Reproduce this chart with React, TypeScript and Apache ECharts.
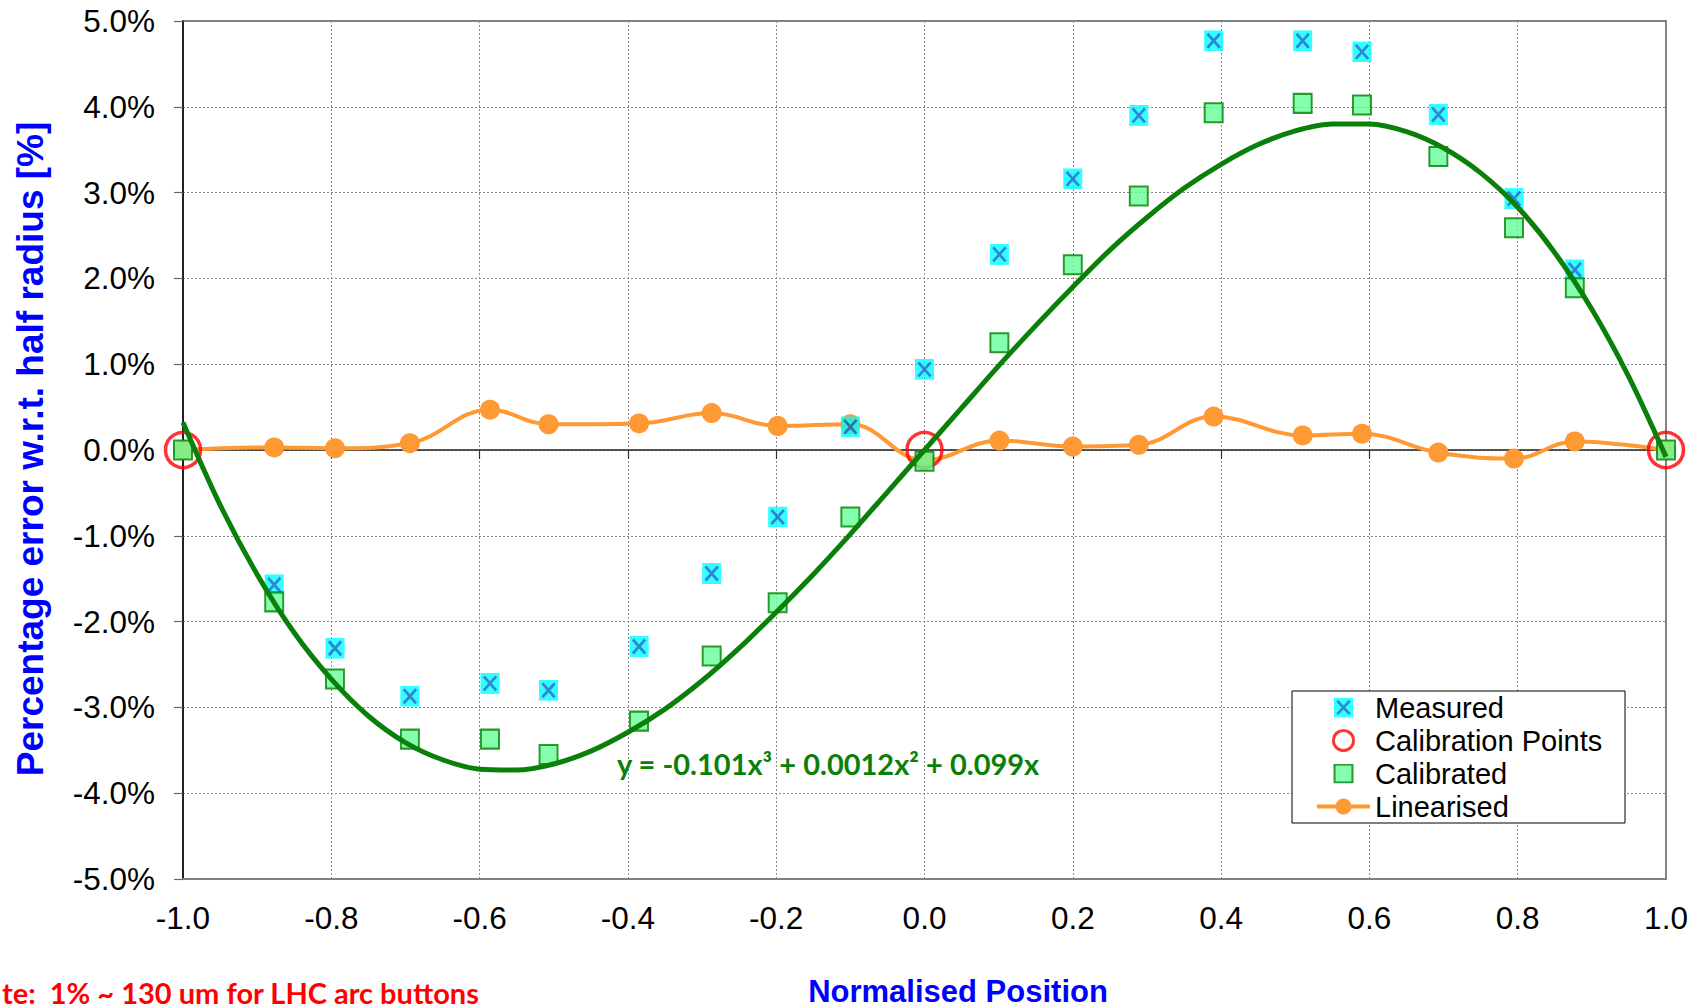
import React, { useEffect, useRef } from "react";
import * as echarts from "echarts";

// Normalised positions of the measurement points
const X_POS = [-1.0, -0.877, -0.795, -0.694, -0.586, -0.507, -0.385, -0.287, -0.198, -0.1, 0.0, 0.101, 0.2, 0.289, 0.39, 0.51, 0.59, 0.693, 0.795, 0.877, 1.0];
// Percentage error values (%), null where no visible point
const MEASURED = [null, -1.57, -2.31, -2.87, -2.72, -2.8, -2.29, -1.44, -0.78, 0.27, 0.94, 2.28, 3.16, 3.9, 4.77, 4.77, 4.64, 3.91, 2.93, 2.1, null];
const CALIBRATED = [0.0, -1.77, -2.67, -3.37, -3.37, -3.55, -3.16, -2.4, -1.78, -0.78, -0.13, 1.25, 2.16, 2.96, 3.93, 4.04, 4.02, 3.42, 2.59, 1.89, 0.0];
const LINEARISED = [0.0, 0.03, 0.02, 0.08, 0.47, 0.3, 0.31, 0.43, 0.28, 0.3, -0.12, 0.11, 0.04, 0.06, 0.39, 0.17, 0.19, -0.03, -0.1, 0.1, 0.0];
const CAL_X = [-1.0, 0.0, 1.0];
const CAL_Y = [0.0, 0.0, 0.0];
// Trendline
const TREND_X = [
  -1.0, -0.95, -0.9, -0.85, -0.8, -0.75, -0.7, -0.65, -0.6, -0.55, -0.5, -0.45, -0.4, -0.35, -0.3, -0.25, -0.2, -0.15, -0.1, -0.05,
  0.0, 0.05, 0.1, 0.15, 0.2, 0.25, 0.3, 0.35, 0.4, 0.45, 0.5, 0.55, 0.6, 0.65, 0.7, 0.75, 0.8, 0.85, 0.9, 0.95, 1.0,
];
const TREND_Y = [
  0.32, -0.64, -1.45, -2.13, -2.67, -3.1, -3.41, -3.61, -3.72, -3.73, -3.66, -3.51, -3.29, -3.02, -2.69, -2.31, -1.89, -1.45, -0.98, -0.49,
  0.0, 0.49, 0.98, 1.45, 1.9, 2.33, 2.71, 3.05, 3.33, 3.56, 3.72, 3.8, 3.8, 3.71, 3.52, 3.23, 2.83, 2.3, 1.64, 0.85, -0.08,
];

const EQUATION = "y = -0.101x³ + 0.0012x² + 0.099x";
const NOTE = "te:  1% ~ 130 um for LHC arc buttons";
const X_TITLE = "Normalised Position";
const Y_TITLE = "Percentage error w.r.t. half radius [%]";

const pairs = (xs: number[], ys: (number | null)[]) =>
  xs.map((x, i) => [x, ys[i]]).filter((p) => p[1] !== null);

const measuredSvg =
  "<svg xmlns='http://www.w3.org/2000/svg' width='20' height='21' viewBox='0 0 20 21'>" +
  "<rect width='20' height='21' fill='#00FFFF'/>" +
  "<path d='M3.5 3.5 L16.5 17.5 M16.5 3.5 L3.5 17.5' stroke='#0066CC' stroke-width='2.8' fill='none'/></svg>";
const measuredIcon = "image://data:image/svg+xml;charset=utf-8," + encodeURIComponent(measuredSvg);
const calibratedSvg =
  "<svg xmlns='http://www.w3.org/2000/svg' width='19' height='19' viewBox='0 0 19 19'>" +
  "<rect x='1' y='1' width='17' height='17' fill='#66FF99' stroke='#008000' stroke-width='2'/></svg>";
const calibratedIcon = "image://data:image/svg+xml;charset=utf-8," + encodeURIComponent(calibratedSvg);

export default function App() {
  const ref = useRef<HTMLDivElement>(null);
  useEffect(() => {
    if (!ref.current) return;
    const chart = echarts.init(ref.current, null, { renderer: "svg" });
    const fmtX = (v: number) => (Math.abs(v) < 1e-9 ? "0.0" : v.toFixed(1));
    const fmtY = (v: number) => (Math.abs(v) < 1e-9 ? "0.0" : v.toFixed(1)) + "%";
    chart.setOption({
      animation: false,
      backgroundColor: "#ffffff",
      grid: {
        left: 183,
        right: 36,
        top: 21,
        bottom: 129,
        show: true,
        borderColor: "#555555",
        borderWidth: 1.5,
        backgroundColor: "transparent",
      },
      xAxis: [
        {
          type: "value",
          min: -1,
          max: 1,
          interval: 0.2,
          position: "bottom",
          axisLine: { onZero: false, lineStyle: { color: "#808080", width: 2 } },
          axisTick: { show: false },
          axisLabel: {
            formatter: fmtX,
            color: "#000",
            fontSize: 31.5,
            fontFamily: "Liberation Sans",
            margin: 23,
          },
          splitLine: { show: true, lineStyle: { color: "#8c8c8c", type: [2, 2], width: 1 } },
        },
        {
          type: "value",
          min: -1,
          max: 1,
          interval: 0.2,
          position: "bottom",
          axisLine: { onZero: true, lineStyle: { color: "#222", width: 1.5 } },
          axisTick: { show: true, length: 9, lineStyle: { color: "#333", width: 1.2 } },
          axisLabel: { show: false },
          splitLine: { show: false },
        },
      ],
      yAxis: {
        type: "value",
        min: -5,
        max: 5,
        interval: 1,
        axisLine: { show: true, onZero: false, lineStyle: { color: "#000", width: 1.5 } },
        axisTick: { show: true, length: 9, lineStyle: { color: "#666", width: 1.2 } },
        axisLabel: {
          formatter: fmtY,
          color: "#000",
          fontSize: 31.5,
          fontFamily: "Liberation Sans",
          margin: 28,
        },
        splitLine: { show: true, lineStyle: { color: "#8c8c8c", type: [2, 2], width: 1 } },
      },
      legend: {
        orient: "vertical",
        left: 1315,
        top: 691,
        padding: 0,
        itemGap: 0,
        itemWidth: 53,
        itemHeight: 20,
        textStyle: { fontSize: 29, fontFamily: "Liberation Sans", color: "#000", lineHeight: 33 },
        data: [
          { name: "Measured", icon: measuredIcon },
          { name: "Calibration Points", itemStyle: { borderWidth: 3 } },
          { name: "Calibrated", icon: calibratedIcon },
          { name: "Linearised", lineStyle: { width: 4 } },
        ],
      },
      graphic: [
        {
          type: "rect",
          z: 3,
          shape: { x: 1292, y: 691, width: 333, height: 132 },
          style: { fill: "#fff", stroke: "#000", lineWidth: 1 },
        },
        {
          type: "text",
          z: 5,
          x: 617,
          y: 763,
          style: {
            text: EQUATION,
            fill: "#0a800a",
            font: 'bold 29px "Lato"',
            textAlign: "left",
            verticalAlign: "middle",
          },
        },
        {
          type: "text",
          z: 5,
          x: 2,
          y: 992,
          style: {
            text: NOTE,
            fill: "#FF0000",
            font: 'bold 29px "Lato"',
            textAlign: "left",
            verticalAlign: "middle",
          },
        },
        {
          type: "text",
          z: 5,
          x: 958,
          y: 991,
          style: {
            text: X_TITLE,
            fill: "#0000FF",
            font: 'bold 31px "Liberation Sans"',
            textAlign: "center",
            verticalAlign: "middle",
          },
        },
        {
          type: "text",
          z: 5,
          x: 30,
          y: 449,
          rotation: Math.PI / 2,
          style: {
            text: Y_TITLE,
            fill: "#0000FF",
            font: 'bold 37px "Liberation Sans"',
            textAlign: "center",
            verticalAlign: "middle",
          },
        },
      ],
      series: [
        {
          name: "Linearised",
          type: "line",
          smooth: 0.4,
          data: pairs(X_POS, LINEARISED),
          symbol: "circle",
          symbolSize: 20,
          lineStyle: { color: "#FF9933", width: 4 },
          itemStyle: { color: "#FF9933" },
          z: 2,
        },
        {
          name: "Measured",
          type: "scatter",
          data: pairs(X_POS, MEASURED),
          symbol: measuredIcon,
          symbolSize: [20, 21],
          itemStyle: { color: "#00FFFF" },
          z: 3,
        },
        {
          name: "Calibration Points",
          type: "scatter",
          data: pairs(CAL_X, CAL_Y),
          symbol: "circle",
          symbolSize: 35,
          itemStyle: { color: "rgba(255,255,255,0)", borderColor: "#FF0000", borderWidth: 3.5 },
          z: 3,
        },
        {
          name: "Calibrated",
          type: "scatter",
          data: pairs(X_POS, CALIBRATED),
          symbol: "rect",
          symbolSize: [18, 19],
          itemStyle: { color: "#66FF99", borderColor: "#008000", borderWidth: 2 },
          z: 4,
        },
        {
          name: "Trend",
          type: "line",
          smooth: 0.3,
          data: pairs(TREND_X, TREND_Y),
          showSymbol: false,
          symbol: "none",
          lineStyle: { color: "#0a800a", width: 5 },
          itemStyle: { color: "#0a800a" },
          z: 5,
        },
      ],
    });
    return () => chart.dispose();
  }, []);
  return (
    <div
      ref={ref}
      style={{ position: "fixed", left: 0, top: 0, width: 1702, height: 1008, background: "#fff" }}
    />
  );
}
